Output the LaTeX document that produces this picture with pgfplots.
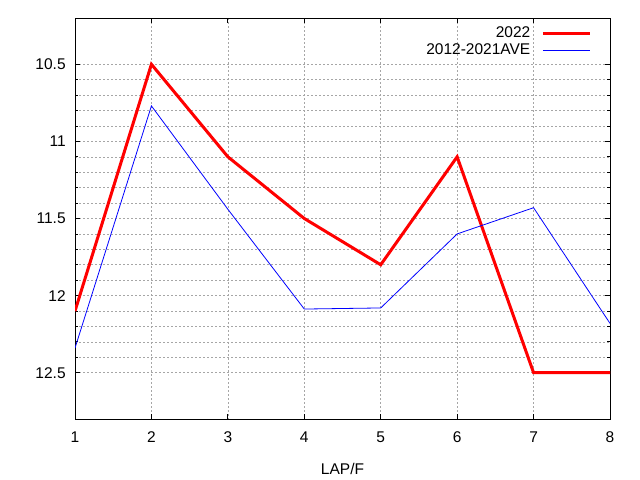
\documentclass[border=0pt]{standalone}
\usepackage{pgfplots}
\pgfplotsset{compat=1.18}
\usepackage{fontspec}
\setmainfont{Liberation Sans}

\begin{document}
\begin{tikzpicture}
\fontsize{15.5bp}{18bp}\selectfont
\path[use as bounding box] (0,0) rectangle (640bp,480bp);
\begin{axis}[
    at={(75bp,61bp)}, anchor=south west,
    scale only axis,
    width=535bp, height=401bp,
    xmin=1, xmax=8,
    ymin=10.2, ymax=12.8,
    y dir=reverse,
    xtick={1,...,8},
    ytick={10.5,11,11.5,12,12.5},
    minor y tick num=4,
    tick align=inside,
    major tick length=5bp,
    minor tick length=3bp,
    grid=both,
    major grid style={gray!70, dash pattern=on 2bp off 2bp, line width=0.6bp},
    minor grid style={gray!70, dash pattern=on 2bp off 2bp, line width=0.6bp},
    axis line style={line width=0.8bp},
    tick style={black, line width=0.8bp},
    /pgf/number format/assume math mode=true,
    ticklabel style={font=\fontsize{15.5bp}{18bp}\selectfont},
    xticklabel style={yshift=-7bp},
    yticklabel style={xshift=-4bp},
    xlabel={LAP/F},
    xlabel style={font=\fontsize{15.5bp}{18bp}\selectfont, yshift=-10bp},
    legend style={draw=none, fill=none, at={(rel axis cs:0.971,0.988)}, anchor=north east,
        font=\fontsize{15.5bp}{18bp}\selectfont, row sep=0bp},
    legend cell align=right,
    legend plot pos=right,
    legend image code/.code={\path (0bp,0bp); \draw[#1] (9bp,0bp) -- (56bp,0bp);},
]
\addplot[red, line width=3bp] coordinates {
    (1,12.1) (2,10.5) (3,11.1) (4,11.5) (5,11.8) (6,11.1) (7,12.5) (8,12.5)
};
\addlegendentry{2022}
\addplot[blue, line width=0.8bp] coordinates {
    (1,12.34) (2,10.77) (3,11.44) (4,12.087) (5,12.08) (6,11.6) (7,11.43) (8,12.18)
};
\addlegendentry{2012-2021AVE}
\end{axis}
\end{tikzpicture}
\end{document}
